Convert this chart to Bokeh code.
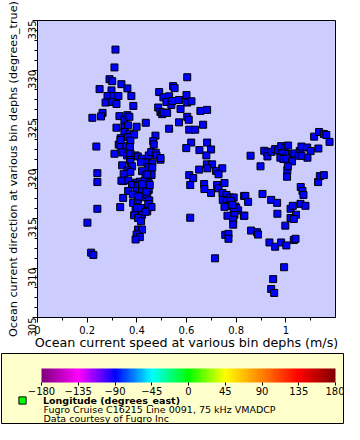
import math
from bokeh.plotting import figure
from bokeh.layouts import column
from bokeh.models import (Range1d, SingleIntervalTicker, ColorBar, LinearColorMapper,
                          FixedTicker, Label, Legend, LegendItem)
from bokeh.embed import file_html
from bokeh.resources import INLINE

# ---------------- data ----------------
speed = [
    0.314, 0.310, 0.290, 0.301, 0.338, 0.362, 0.250, 0.298, 0.282, 0.306,
    0.326, 0.378, 0.274, 0.301, 0.318, 0.386, 0.262, 0.256, 0.221, 0.330,
    0.350, 0.362, 0.370, 0.436, 0.318, 0.350, 0.364, 0.399, 0.350, 0.370,
    0.389, 0.364, 0.335, 0.475, 0.237, 0.327, 0.334, 0.358, 0.374, 0.334,
    0.372, 0.466, 0.468, 0.310, 0.341, 0.361, 0.374, 0.395, 0.404, 0.421,
    0.448, 0.458, 0.476, 0.479, 0.372, 0.374, 0.417, 0.442, 0.495, 0.462,
    0.341, 0.381, 0.448, 0.462, 0.362, 0.374, 0.241, 0.347, 0.421, 0.435,
    0.444, 0.458, 0.241, 0.345, 0.365, 0.396, 0.412, 0.431, 0.448, 0.381,
    0.404, 0.399, 0.365, 0.421, 0.439, 0.448, 0.345, 0.385, 0.404, 0.428,
    0.442, 0.450, 0.446, 0.333, 0.241, 0.395, 0.401, 0.417, 0.442, 0.389,
    0.421, 0.405, 0.459, 0.435, 0.417, 0.201, 0.405, 0.421, 0.399, 0.412,
    0.395, 0.216, 0.225, 0.338, 0.384, 0.407, 0.438, 0.459, 0.452, 0.421,
    0.495, 0.442,
    0.603, 0.546, 0.552, 0.490, 0.507, 0.530, 0.519, 0.539, 0.543, 0.570,
    0.600, 0.603, 0.620, 0.486, 0.495, 0.502, 0.508, 0.522, 0.576, 0.656,
    0.683, 0.603, 0.609, 0.570, 0.667, 0.530, 0.611, 0.635, 0.619, 0.683,
    0.599, 0.652, 0.699, 0.680, 0.682, 0.703, 0.684, 0.719, 0.744, 0.729,
    0.651, 0.611, 0.627, 0.615, 0.671, 0.672, 0.699, 0.723, 0.729, 0.753,
    0.745, 0.761, 0.777, 0.790, 0.746, 0.762, 0.778, 0.764, 0.753, 0.797,
    0.808, 0.800, 0.793, 0.765, 0.788, 0.788, 0.832, 0.831, 0.615, 0.756,
    0.769, 0.769, 0.715, 0.790, 0.784,
    0.837, 0.848, 0.858, 0.898, 0.906, 0.941, 0.965, 0.833, 0.966, 0.998,
    0.860, 0.884, 0.888, 0.934, 0.957, 0.981, 1.002, 1.032, 1.039, 0.993,
    0.949, 0.941, 0.953, 1.019, 1.041, 1.019, 1.032, 1.006, 1.005, 1.028,
    1.059, 1.079, 1.060, 1.067, 1.071, 1.130, 1.137, 1.153, 1.114, 1.134,
    1.153, 1.163, 1.176, 0.913, 0.925, 0.926, 0.942, 0.957, 0.969, 0.981,
    0.998, 1.009, 0.986, 1.012, 1.025, 1.035, 1.056, 1.063, 1.086, 1.100,
    1.131, 1.052, 1.087, 0.978, 0.990, 1.004, 1.025, 1.008, 1.063,
]
direction = [
    332.06, 330.26, 329.07, 328.87, 328.57, 328.14, 328.07, 327.94, 327.37, 327.37,
    327.37, 327.37, 326.71, 326.77, 326.57, 326.37, 325.67, 325.31, 325.17, 325.34,
    324.94, 325.44, 325.27, 324.67, 324.17, 324.27, 324.41, 324.27, 323.74, 323.57,
    323.47, 323.21, 323.11, 323.37, 322.27, 322.47, 322.37, 322.31, 322.87, 322.94,
    322.21, 322.81, 322.47, 321.54, 321.67, 321.37, 321.54, 321.37, 321.27, 321.04,
    321.37, 321.71, 321.64, 321.37, 320.91, 320.71, 320.67, 320.64, 320.94, 320.57,
    320.37, 320.27, 320.21, 320.14, 319.87, 319.71, 319.58, 319.48, 319.78, 319.38,
    319.22, 319.38, 318.68, 318.78, 318.85, 318.62, 318.72, 318.78, 318.55, 318.38,
    318.28, 317.82, 317.78, 317.95, 318.28, 317.88, 317.08, 316.58, 316.88, 317.15,
    317.38, 316.82, 316.45, 316.15, 315.98, 315.78, 316.05, 316.05, 315.72, 315.32,
    315.38, 315.05, 316.15, 315.68, 314.72, 314.58, 313.88, 313.88, 313.38, 313.12,
    312.88, 311.55, 311.32, 318.82, 317.42, 317.22, 317.72, 319.42, 318.38, 318.45,
    321.11, 319.45,
    329.27, 328.37, 328.17, 327.77, 327.24, 327.34, 326.77, 326.47, 326.87, 326.97,
    327.47, 326.71, 326.84, 326.21, 325.77, 325.54, 325.71, 325.67, 326.07, 325.87,
    325.97, 325.27, 324.97, 324.71, 324.47, 324.07, 323.97, 323.97, 322.67, 322.67,
    322.11, 321.91, 321.97, 321.37, 320.47, 320.47, 320.07, 319.81, 320.07, 319.47,
    319.94, 319.38, 319.08, 318.38, 318.48, 317.98, 317.58, 318.38, 318.05, 318.58,
    317.58, 317.38, 317.12, 317.12, 316.88, 316.78, 316.78, 316.28, 316.18, 316.22,
    315.82, 316.05, 315.38, 315.28, 314.88, 314.38, 317.28, 315.28, 315.08, 313.35,
    313.45, 312.95, 310.98, 316.05, 316.38,
    317.28, 316.68, 321.34, 320.27, 317.48, 316.88, 316.58, 315.28, 315.48, 314.28,
    313.78, 313.62, 313.38, 312.58, 312.15, 312.58, 312.28, 312.82, 312.95, 310.08,
    308.88, 307.88, 307.48, 315.98, 315.38, 315.05, 314.95, 319.88, 319.22, 316.28,
    316.48, 316.28, 318.18, 317.78, 317.38, 318.68, 319.28, 319.38, 323.27, 323.74,
    323.54, 323.44, 322.74, 321.84, 321.67, 321.27, 321.74, 322.01, 321.87, 322.31,
    322.14, 322.37, 321.57, 321.51, 321.51, 321.57, 321.81, 322.27, 322.17, 321.81,
    322.07, 321.34, 321.14, 321.14, 321.01, 321.04, 320.77, 320.27, 321.34,
]
x_label = "Ocean current speed at various bin dephs (m/s)"
y_label = "Ocean current direction at various bin dephs (degrees_true)"
colorbar_ticks = [-180, -135, -90, -45, 0, 45, 90, 135, 180]
legend_title = "Longitude (degrees_east)"
legend_lines = ["Fugro Cruise C16215 Line 0091, 75 kHz VMADCP",
                "Data courtesy of Fugro Inc"]

FONT = "DejaVu Sans"

# ---------------- main scatter plot ----------------
p = figure(width=344, height=352, x_range=Range1d(0, 1.2), y_range=Range1d(305, 335),
           output_backend="svg", toolbar_location=None,
           min_border_left=37, min_border_right=9, min_border_top=20, min_border_bottom=34)
p.frame_align = False
p.background_fill_color = "#ccccff"
p.border_fill_color = "white"
p.outline_line_color = "black"
p.outline_line_width = 1
p.grid.visible = False

p.xaxis.ticker = SingleIntervalTicker(interval=0.2, num_minor_ticks=2)
p.yaxis.ticker = SingleIntervalTicker(interval=5, num_minor_ticks=5)
p.xaxis.major_label_overrides = {0: "0", 1: "1"}
p.xaxis.axis_label = x_label
p.yaxis.axis_label = y_label
for ax in (p.xaxis, p.yaxis):
    ax.axis_line_color = "black"
    ax.major_tick_line_color = "black"
    ax.minor_tick_line_color = "black"
    ax.major_tick_out = 5
    ax.major_tick_in = 0
    ax.minor_tick_out = 3
    ax.minor_tick_in = 0
    ax.major_label_text_font = FONT
    ax.major_label_text_font_size = "10px"
    ax.major_label_text_color = "black"
    ax.axis_label_text_font = FONT
    ax.axis_label_text_font_style = "normal"
    ax.axis_label_text_color = "black"
p.xaxis.axis_label_text_font_size = "12.7px"
p.yaxis.axis_label_text_font_size = "11.2px"
p.xaxis.major_label_standoff = 3
p.xaxis.axis_label_standoff = -2
p.yaxis.major_label_standoff = 1
p.yaxis.axis_label_standoff = 1
p.yaxis.major_label_orientation = math.pi / 2

p.scatter(x=speed, y=direction, marker="square", size=7,
          fill_color="#0000ff", line_color="black", line_width=1)

# ---------------- legend / colour bar box below the plot ----------------
anchors = [(128, 0, 128), (255, 0, 255), (0, 0, 255), (0, 255, 255), (0, 255, 0),
           (255, 255, 0), (255, 128, 0), (255, 0, 0), (128, 0, 0)]
palette = []
n_per = 32
for i in range(len(anchors) - 1):
    a, b = anchors[i], anchors[i + 1]
    for k in range(n_per):
        t = k / n_per
        palette.append("#%02x%02x%02x" % tuple(int(round(a[j] + (b[j] - a[j]) * t)) for j in range(3)))
palette.append("#%02x%02x%02x" % anchors[-1])

p2 = figure(width=344, height=72, x_range=Range1d(0, 1), y_range=Range1d(0, 1),
            output_backend="svg", toolbar_location=None,
            x_axis_location=None, y_axis_location=None,
            min_border_left=1, min_border_right=1, min_border_top=1, min_border_bottom=1)
p2.frame_align = False
p2.grid.visible = False
p2.background_fill_color = "#ffffcc"
p2.border_fill_color = "white"
p2.outline_line_color = "black"
p2.outline_line_width = 1

mapper = LinearColorMapper(palette=palette, low=-180, high=180)
cb = ColorBar(color_mapper=mapper, orientation="horizontal", width=294, height=14,
              location=(40, 26), padding=0, margin=0,
              ticker=FixedTicker(ticks=colorbar_ticks),
              background_fill_alpha=0, border_line_alpha=0, bar_line_alpha=0,
              major_tick_out=3, major_tick_in=0, major_tick_line_color="black",
              minor_tick_line_alpha=0, label_standoff=1,
              major_label_text_font=FONT, major_label_text_font_size="10px",
              major_label_text_color="black")
p2.add_layout(cb, "center")

swatch = p2.scatter(x=[float("nan")], y=[float("nan")], marker="square",
                    fill_color="#00ff00", line_color="black", line_width=1)
leg = Legend(items=[LegendItem(label=legend_title, renderers=[swatch])],
             location=(12, 14), padding=0, margin=0, glyph_width=18, glyph_height=18,
             label_standoff=12, label_text_font=FONT, label_text_font_size="9.5px",
             label_text_font_style="bold", label_text_color="black",
             background_fill_alpha=0, border_line_alpha=0)
p2.add_layout(leg, "center")

for i, line in enumerate(legend_lines):
    p2.add_layout(Label(x=42, y=14 - 8.5 * i, x_units="screen", y_units="screen",
                        text=line, text_font=FONT, text_font_size="9.5px",
                        text_baseline="middle", text_color="black"))

layout = column(p, p2, spacing=0)
open("out.html", "w").write(file_html(layout, INLINE))
